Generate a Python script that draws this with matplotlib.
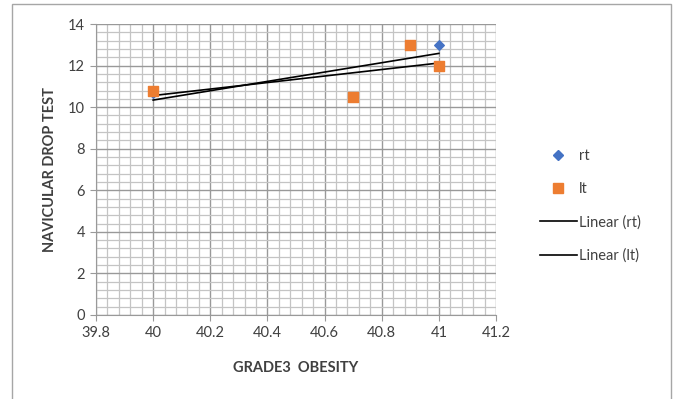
import numpy as np
import matplotlib
matplotlib.use("Agg")
import matplotlib.pyplot as plt
from matplotlib.lines import Line2D
from matplotlib.patches import Rectangle
from matplotlib.ticker import MultipleLocator

# data
obesity = [40.0, 40.7, 40.9, 41.0]
rt = [10.7, 10.5, 13.0, 13.0]
lt = [10.8, 10.5, 13.0, 12.0]

x_ticks = [39.8, 40, 40.2, 40.4, 40.6, 40.8, 41, 41.2]
x_tick_labels = ["39.8", "40", "40.2", "40.4", "40.6", "40.8", "41", "41.2"]
y_ticks = [0, 2, 4, 6, 8, 10, 12, 14]

plt.rcParams['font.family'] = ['Lato', 'DejaVu Sans']

fig = plt.figure(figsize=(6.77, 3.99), dpi=100)
fig.patches.append(Rectangle((12 / 677, -0.05), 659 / 677, 1.05 - 4 / 399,
                             transform=fig.transFigure, fill=False,
                             edgecolor='#a6a6a6', linewidth=1))
ax = fig.add_axes([96 / 677, 1 - 315 / 399, 400 / 677, 291 / 399])

ax.set_xlim(39.8, 41.2)
ax.set_ylim(0, 14)
ax.xaxis.set_minor_locator(MultipleLocator(0.04))
ax.yaxis.set_minor_locator(MultipleLocator(0.4))
ax.set_xticks(x_ticks)
ax.set_xticklabels(x_tick_labels)
ax.set_yticks(y_ticks)
ax.grid(which='major', color='#999999', linewidth=1.0)
ax.grid(which='minor', color='#c4c4c4', linewidth=0.9)
ax.set_axisbelow(True)
for s in ['top', 'right']:
    ax.spines[s].set_visible(False)
for s in ['left', 'bottom']:
    ax.spines[s].set_color('#999999')
ax.tick_params(which='major', length=4, color='#999999', labelsize=10.5,
               labelcolor='#404040', pad=4)
ax.tick_params(which='minor', length=0)

xs = np.array([40.0, 41.0])
for ys in (rt, lt):
    k, b = np.polyfit(obesity, ys, 1)
    ax.plot(xs, k * xs + b, color='black', linewidth=1.2, zorder=3)

ax.scatter(obesity, rt, marker='D', s=24, color='#4472c4', zorder=4)
ax.scatter(obesity, lt, marker='s', s=60, color='#ed7d31', zorder=5)

ax.set_xlabel("GRADE3  OBESITY", fontsize=10.5, fontweight='bold',
              color='#404040', labelpad=15)
ax.set_ylabel("NAVICULAR DROP TEST", fontsize=10.5, fontweight='bold',
              color='#404040', labelpad=8)

handles = [
    Line2D([], [], linestyle='none', marker='D', markersize=5, color='#4472c4'),
    Line2D([], [], linestyle='none', marker='s', markersize=7, color='#ed7d31'),
    Line2D([], [], color='black', linewidth=1.2),
    Line2D([], [], color='black', linewidth=1.2),
]
fig.legend(handles, ["rt", "lt", "Linear (rt)", "Linear (lt)"],
           loc='upper left', bbox_to_anchor=(527 / 677, 1 - 136 / 399),
           frameon=False, fontsize=10.5, labelspacing=1.3, handlelength=2.5,
           handletextpad=0.15, labelcolor='#404040')

fig.savefig("out.png", dpi=100)
